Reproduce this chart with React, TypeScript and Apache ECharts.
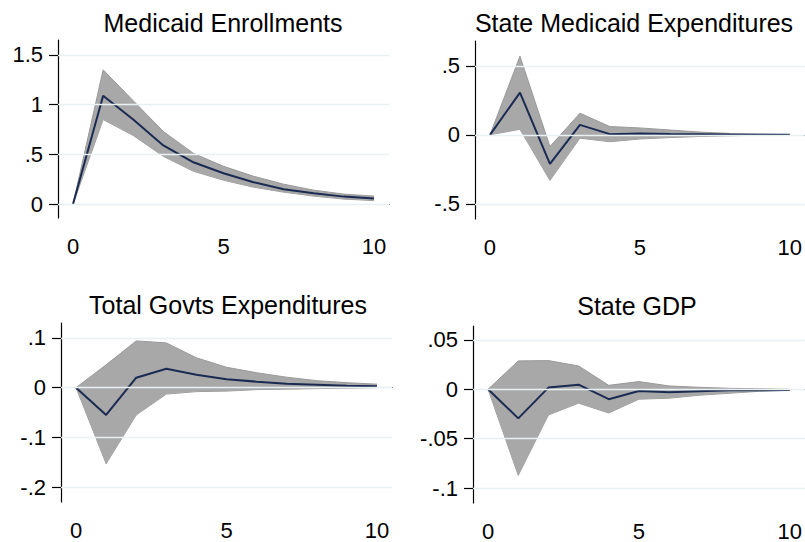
import React, { useEffect, useRef } from "react";
import * as echarts from "echarts";

const steps = ["0", "1", "2", "3", "4", "5", "6", "7", "8", "9", "10"];

const titles = ["Medicaid Enrollments", "State Medicaid Expenditures", "Total Govts Expenditures", "State GDP"];

const p1Mean = [0, 1.09, 0.85, 0.59, 0.42, 0.31, 0.22, 0.15, 0.11, 0.075, 0.055];
const p1Upper = [0, 1.35, 1.04, 0.73, 0.51, 0.38, 0.28, 0.2, 0.14, 0.1, 0.08];
const p1Lower = [0, 0.85, 0.69, 0.48, 0.33, 0.24, 0.17, 0.12, 0.08, 0.05, 0.035];

const p2Mean = [0, 0.306, -0.21, 0.072, 0.005, 0.01, 0.006, 0.004, 0.002, 0.001, 0];
const p2Upper = [0, 0.57, -0.085, 0.157, 0.06, 0.05, 0.035, 0.02, 0.01, 0.005, 0.002];
const p2Lower = [0, 0.04, -0.33, -0.024, -0.05, -0.03, -0.02, -0.012, -0.007, -0.003, -0.001];

const p3Mean = [0, -0.055, 0.02, 0.038, 0.026, 0.017, 0.012, 0.008, 0.006, 0.004, 0.003];
const p3Upper = [0, 0.046, 0.094, 0.09, 0.06, 0.041, 0.03, 0.021, 0.014, 0.01, 0.007];
const p3Lower = [0, -0.153, -0.055, -0.013, -0.008, -0.007, -0.004, -0.003, -0.002, -0.001, 0];

const p4Mean = [0, -0.0294, 0.0017, 0.0047, -0.01, -0.0017, -0.003, -0.002, -0.001, -0.001, -0.0008];
const p4Upper = [0, 0.0287, 0.029, 0.0236, 0.004, 0.0078, 0.0034, 0.002, 0.001, 0.0005, 0];
const p4Lower = [0, -0.087, -0.026, -0.014, -0.024, -0.01, -0.009, -0.006, -0.004, -0.002, -0.001];

const p1Ticks = [0, 0.5, 1, 1.5];
const p2Ticks = [-0.5, 0, 0.5];
const p3Ticks = [-0.2, -0.1, 0, 0.1];
const p4Ticks = [-0.1, -0.05, 0, 0.05];

const panels = [
  { mean: p1Mean, upper: p1Upper, lower: p1Lower, ticks: p1Ticks, min: -0.14, max: 1.65 },
  { mean: p2Mean, upper: p2Upper, lower: p2Lower, ticks: p2Ticks, min: -0.61, max: 0.68 },
  { mean: p3Mean, upper: p3Upper, lower: p3Lower, ticks: p3Ticks, min: -0.23, max: 0.13 },
  { mean: p4Mean, upper: p4Upper, lower: p4Lower, ticks: p4Ticks, min: -0.115, max: 0.064 },
];

const grids = [
  { left: 58, top: 40, width: 331, height: 178 },
  { left: 475, top: 41, width: 330, height: 178 },
  { left: 61, top: 323, width: 331, height: 179 },
  { left: 473, top: 326, width: 332, height: 177 },
];

const titlePos = [
  { x: 223, y: 23 },
  { x: 634, y: 23 },
  { x: 228, y: 305 },
  { x: 637, y: 306 },
];

const FONT = "Liberation Sans, Arial, sans-serif";

function fmt(v: number): string {
  if (v === 0) return "0";
  let s = String(Math.round(v * 1000) / 1000);
  s = s.replace(/^0\./, ".").replace(/^-0\./, "-.");
  return s;
}

export default function App() {
  const ref = useRef<HTMLDivElement>(null);
  useEffect(() => {
    if (!ref.current) return;
    const chart = echarts.init(ref.current, undefined, { renderer: "svg" });
    const xAxis: any[] = [];
    const yAxis: any[] = [];
    const series: any[] = [];
    panels.forEach((p, i) => {
      xAxis.push({
        type: "category",
        gridIndex: i,
        data: steps,
        boundaryGap: true,
        axisLine: { lineStyle: { color: "#000", width: 1.2 } },
        axisTick: { alignWithLabel: true, interval: 4, length: 9, lineStyle: { color: "#000", width: 1.2 } },
        axisLabel: { interval: 4, margin: 17, fontSize: 22, color: "#000", fontFamily: FONT },
        splitLine: { show: false },
      });
      yAxis.push({
        type: "value",
        gridIndex: i,
        min: p.min,
        max: p.max,
        axisLine: { show: true, lineStyle: { color: "#000", width: 1.2 } },
        axisTick: { show: true, customValues: p.ticks, length: 9, lineStyle: { color: "#000", width: 1.2 } },
        axisLabel: { customValues: p.ticks, margin: 15, fontSize: 22, color: "#000", fontFamily: FONT, formatter: (v: number) => fmt(v) },
        splitLine: { show: false },
      });
      const diff = p.upper.map((u, k) => u - p.lower[k]);
      series.push({
        type: "line",
        xAxisIndex: i,
        yAxisIndex: i,
        stack: "band" + i,
        stackStrategy: "all",
        data: p.lower,
        symbol: "none",
        lineStyle: { color: "#999999", width: 1 },
        z: 1,
        markLine: {
          silent: true,
          symbol: "none",
          label: { show: false },
          lineStyle: { color: "#e8f0f2", width: 1.3, type: "solid" },
          data: p.ticks.map((t) => ({ yAxis: t })),
        },
      });
      series.push({
        type: "line",
        xAxisIndex: i,
        yAxisIndex: i,
        stack: "band" + i,
        stackStrategy: "all",
        data: diff,
        symbol: "none",
        lineStyle: { color: "#999999", width: 1 },
        areaStyle: { color: "#a8a8a8", opacity: 1 },
        z: 2,
      });
      series.push({
        type: "line",
        xAxisIndex: i,
        yAxisIndex: i,
        data: p.mean,
        symbol: "none",
        lineStyle: { color: "#1a2a52", width: 2 },
        z: 3,
      });
    });
    chart.setOption({
      animation: false,
      backgroundColor: "#ffffff",
      grid: grids.map((g) => ({ ...g, containLabel: false })),
      xAxis,
      yAxis,
      series,
      graphic: titles.map((t, i) => ({
        type: "text",
        x: titlePos[i].x,
        y: titlePos[i].y,
        style: {
          text: t,
          fontSize: 25,
          fontFamily: FONT,
          fill: "#000",
          textAlign: "center",
          textVerticalAlign: "middle",
        },
      })),
    });
    return () => chart.dispose();
  }, []);
  return (
    <div
      ref={ref}
      style={{ position: "fixed", left: 0, top: 0, width: 805, height: 542, background: "#fff" }}
    />
  );
}
